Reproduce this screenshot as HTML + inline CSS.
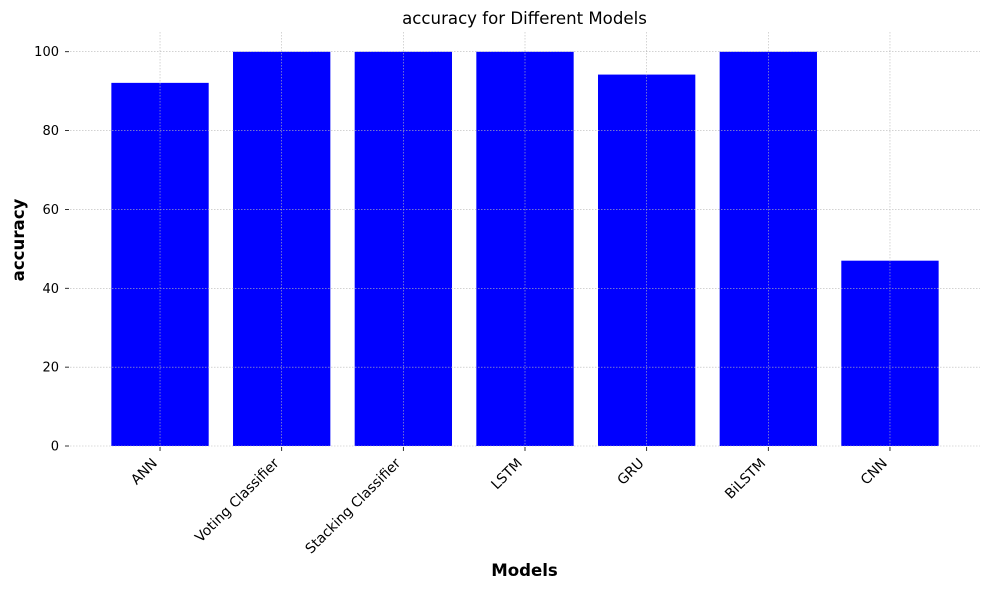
<!DOCTYPE html>
<html><head><meta charset="utf-8"><style>
body{margin:0;background:#fff;}
svg{display:block;font-family:"DejaVu Sans","Liberation Sans",sans-serif;}
</style></head><body>
<svg id="chart" width="989" height="590">
<text x="524.5" y="24" text-anchor="middle" font-size="16.6">accuracy for Different Models</text>
<g id="grid"></g><g id="bars"></g><g id="axes"></g>
<text x="524.5" y="576" text-anchor="middle" font-size="16.6" font-weight="bold">Models</text>
<text transform="translate(24,240) rotate(-90)" text-anchor="middle" font-size="16.6" font-weight="bold">accuracy</text>
</svg>
<script>
const categories=["ANN","Voting Classifier","Stacking Classifier","LSTM","GRU","BiLSTM","CNN"];
const values=[92.1,100,100,100,94.2,100,47];
const yTicks=[0,20,40,60,80,100];
const NS="http://www.w3.org/2000/svg";
const L=70,R=980,T=32,B=446;
const n=categories.length;
const xMin=-0.74,xMax=n-1+0.74;
function x(i){return L+(i-xMin)/(xMax-xMin)*(R-L);}
function y(v){return B-(v/105)*(B-T);}
const bw=0.8*(x(1)-x(0));
function mk(tag,attrs,parent){const e=document.createElementNS(NS,tag);for(const k in attrs)e.setAttribute(k,attrs[k]);parent.appendChild(e);return e;}
const grid=document.getElementById('grid'),bars=document.getElementById('bars'),axes=document.getElementById('axes');
categories.forEach((c,i)=>{
  const b=mk('rect',{x:x(i)-bw/2,y:y(values[i]),width:bw,height:B-y(values[i]),fill:'#0000ff'},bars);
  
  
  const g=mk('line',{x1:x(i),x2:x(i),y1:T,y2:B,stroke:'#b8b8b8','stroke-width':0.6,'stroke-dasharray':'1.5,1.5'},grid);
  
  
  const tk=mk('line',{x1:x(i),x2:x(i),y1:B+1,y2:B+5,stroke:'#000','stroke-width':0.8},axes);
  
  
  const lb=mk('text',{transform:`translate(${x(i)-2},${B+18}) rotate(-45)`,'text-anchor':'end','font-size':13.9},axes);
  lb.textContent=c;
  
  
});
yTicks.forEach(t=>{
  const g=mk('line',{x1:L,x2:R,y1:y(t),y2:y(t),stroke:'#b8b8b8','stroke-width':0.6,'stroke-dasharray':'1.5,1.5'},grid);
  
  
  const tk=mk('line',{x1:L-5,x2:L-1,y1:y(t),y2:y(t),stroke:'#000','stroke-width':0.8},axes);
  
  
  const lb=mk('text',{x:L-11,y:y(t)+4.5,'text-anchor':'end','font-size':13},axes);
  lb.textContent=t;
  
  
});
grid.parentNode.insertBefore(grid,axes);
</script>
</body></html>
